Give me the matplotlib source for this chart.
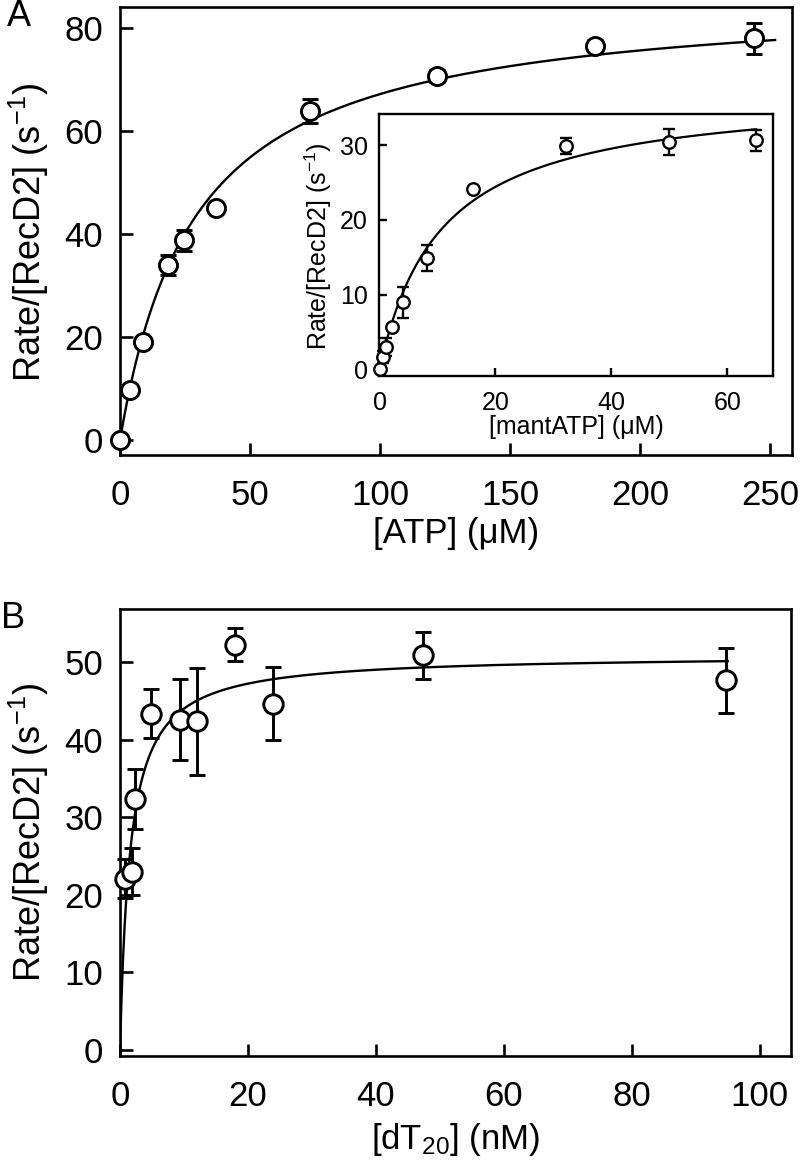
import matplotlib
matplotlib.use('Agg')
import matplotlib.pyplot as plt
import numpy as np

plt.rcParams['font.family'] = ['Liberation Sans', 'DejaVu Sans']
plt.rcParams['mathtext.default'] = 'regular'

# panel A: ATP titration (main) and mantATP titration (inset)
atp_conc = [0, 3.8, 8.8, 18.6, 24.6, 36.9, 73.1, 122.0, 182.7, 243.8]
atp_rate = [0, 9.7, 19.0, 34.0, 38.8, 45.0, 63.9, 70.7, 76.6, 78.0]
atp_err = [0, 0, 0, 2.0, 2.0, 0, 2.3, 1.2, 1.0, 3.0]
atp_vmax, atp_km = 86.6, 28.9

mant_conc = [0, 0.57, 1.15, 2.1, 4.1, 8.1, 16.1, 32.1, 49.9, 64.9]
mant_rate = [0, 1.6, 3.0, 5.7, 8.95, 14.9, 24.2, 29.9, 30.4, 30.7]
mant_err = [0, 0.8, 1.2, 0, 2.1, 1.8, 0, 1.1, 1.75, 1.4]
mant_vmax, mant_km = 37.4, 10.6

# panel B: dT20 titration
dt_conc = [0.8, 1.9, 2.3, 4.8, 9.4, 12.0, 18.0, 23.9, 47.4, 94.8]
dt_rate = [22.1, 23.0, 32.4, 43.4, 42.6, 42.4, 52.3, 44.7, 50.9, 47.7]
dt_err = [2.5, 3.0, 3.9, 3.2, 5.2, 6.9, 2.15, 4.7, 3.0, 4.2]
dt_vmax, dt_km = 51.0, 1.58

W, H = 800, 1174
fig = plt.figure(figsize=(W/100, H/100), dpi=100)

def px_axes(l, t, r, b):
    return fig.add_axes([l/W, 1-b/H, (r-l)/W, (b-t)/H])

def style(ax, lw, tlen, fs, xpad, ypad):
    for s in ax.spines.values():
        s.set_linewidth(lw)
    ax.tick_params(direction='in', top=False, right=False, length=tlen, width=lw,
                   labelsize=fs)
    ax.tick_params(axis='x', pad=xpad)
    ax.tick_params(axis='y', pad=ypad)

def draw(ax, x, y, err, vmax, km, xmax, ms, mew, lw, cap):
    xf = np.linspace(0, xmax, 400)
    ax.plot(xf, vmax*xf/(km+xf), color='black', lw=lw, zorder=2)
    x = np.asarray(x); y = np.asarray(y); err = np.asarray(err)
    m = err > 0
    ax.errorbar(x[m], y[m], yerr=err[m], fmt='none', ecolor='black', elinewidth=mew,
                capsize=cap, capthick=mew, zorder=3, clip_on=False)
    ax.plot(x, y, 'o', ms=ms, mfc='white', mec='black', mew=mew, zorder=4, clip_on=False)

# ---- panel A
axA = px_axes(120, 7, 792, 455)
draw(axA, atp_conc, atp_rate, atp_err, atp_vmax, atp_km, 252, 13, 2.1, 1.7, 6)
axA.set_xlim(0, 258.5)
axA.set_ylim(-2.9, 84.1)
axA.set_xticks([0, 50, 100, 150, 200, 250])
axA.set_yticks([0, 20, 40, 60, 80])
style(axA, 1.9, 9, 25, 17, 12)
axA.set_xlabel('[ATP] (\u03bcM)', fontsize=25, labelpad=4)
fig.text(29/W, 1-232/H, 'Rate/[RecD2] (s$^{-1}$)', rotation=90, fontsize=26,
         ha='center', va='center')
fig.text(7/W, 1-17/H, 'A', fontsize=26, ha='left', va='center')

# ---- inset
axI = px_axes(379, 114, 773, 376)
draw(axI, mant_conc, mant_rate, mant_err, mant_vmax, mant_km, 65, 9, 1.7, 1.6, 4)
axI.set_xlim(-0.1, 67.9)
axI.set_ylim(-0.9, 34.2)
axI.set_xticks([0, 20, 40, 60])
axI.set_yticks([0, 10, 20, 30])
style(axI, 1.7, 6, 18, 11, 8)
axI.set_xlabel('[mantATP] (\u03bcM)', fontsize=18, labelpad=0)
fig.text(318/W, 1-246/H, 'Rate/[RecD2] (s$^{-1}$)', rotation=90, fontsize=18,
         ha='center', va='center')

# ---- panel B
axB = px_axes(120, 609, 791, 1056)
draw(axB, dt_conc, dt_rate, dt_err, dt_vmax, dt_km, 95, 14, 2.1, 1.7, 6)
axB.set_xlim(0, 104.9)
axB.set_ylim(-0.8, 56.9)
axB.set_xticks([0, 20, 40, 60, 80, 100])
axB.set_yticks([0, 10, 20, 30, 40, 50])
style(axB, 1.9, 9, 25, 17, 12)
axB.set_xlabel('[dT$_{20}$] (nM)', fontsize=25, labelpad=6)
fig.text(29/W, 1-832/H, 'Rate/[RecD2] (s$^{-1}$)', rotation=90, fontsize=26,
         ha='center', va='center')
fig.text(1/W, 1-619/H, 'B', fontsize=26, ha='left', va='center')

fig.savefig('out.png', dpi=100)
